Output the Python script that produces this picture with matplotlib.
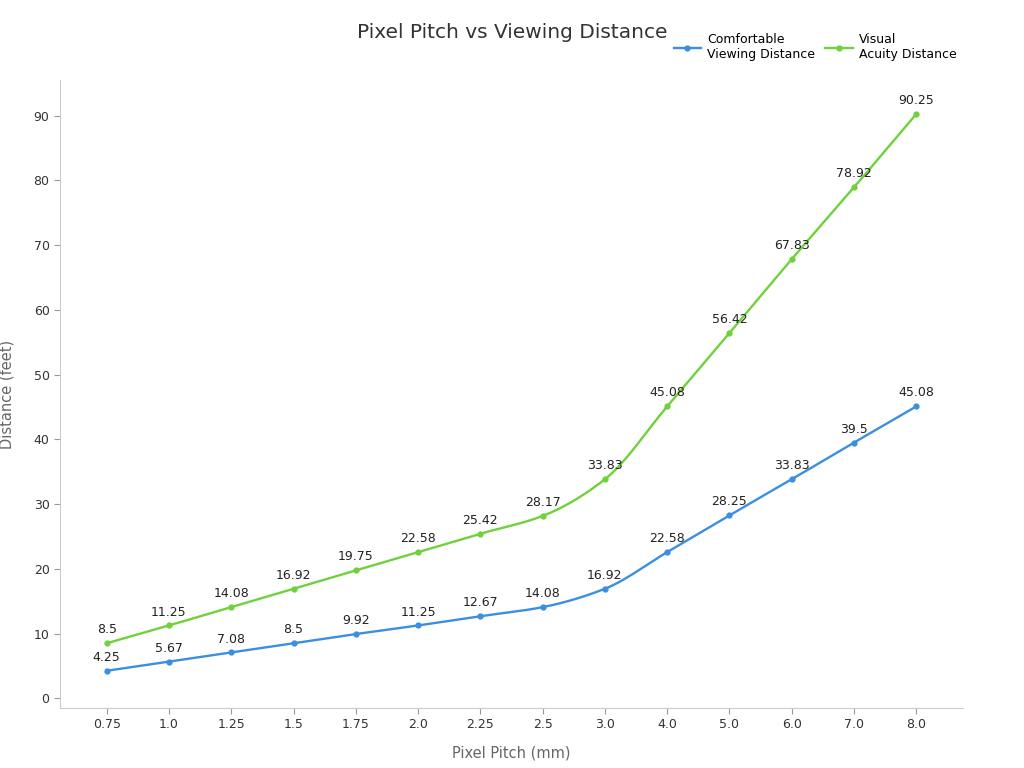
import numpy as np
import matplotlib
matplotlib.use("Agg")
import matplotlib.pyplot as plt

categories = ["0.75","1.0","1.25","1.5","1.75","2.0","2.25","2.5","3.0","4.0","5.0","6.0","7.0","8.0"]
comfortable = [4.25,5.67,7.08,8.5,9.92,11.25,12.67,14.08,16.92,22.58,28.25,33.83,39.5,45.08]
acuity = [8.5,11.25,14.08,16.92,19.75,22.58,25.42,28.17,33.83,45.08,56.42,67.83,78.92,90.25]

def pchip(x, y, xs):
    x = np.asarray(x, float); y = np.asarray(y, float)
    h = np.diff(x); d = np.diff(y) / h
    n = len(x); m = np.zeros(n)
    for k in range(1, n - 1):
        if d[k-1] * d[k] > 0:
            w1 = 2*h[k] + h[k-1]; w2 = h[k] + 2*h[k-1]
            m[k] = (w1 + w2) / (w1/d[k-1] + w2/d[k])
    m[0] = d[0]; m[-1] = d[-1]
    idx = np.clip(np.searchsorted(x, xs) - 1, 0, n - 2)
    t = (xs - x[idx]) / h[idx]
    h00 = 2*t**3 - 3*t**2 + 1; h10 = t**3 - 2*t**2 + t
    h01 = -2*t**3 + 3*t**2; h11 = t**3 - t**2
    return h00*y[idx] + h10*h[idx]*m[idx] + h01*y[idx+1] + h11*h[idx]*m[idx+1]

fig = plt.figure(figsize=(10.24, 7.68), dpi=100)
ax = fig.add_axes([60/1024, 60/768, 903/1024, 628/768])
x = np.arange(len(categories))
xs = np.linspace(0, len(categories) - 1, 600)
series = [(comfortable, "#3b8fe0", "Comfortable\nViewing Distance"),
          (acuity, "#6fd13b", "Visual\nAcuity Distance")]
for vals, col, lab in series:
    ax.plot(xs, pchip(x, vals, xs), color=col, lw=1.7)
    ax.plot(x, vals, 'o', color=col, ms=3.5)
    ax.plot([], [], '-o', color=col, ms=3.5, lw=1.7, label=lab)
    for xi, v in zip(x, vals):
        ax.annotate(f"{v:g}", (xi, v), xytext=(0, 5), textcoords="offset points",
                    ha="center", va="bottom", fontsize=9, color="#222")

ax.set_xlim(-0.75, len(categories) - 0.25)
ax.set_ylim(-1.5, 95.5)
ax.set_xticks(x, categories)
ax.set_yticks(range(0, 91, 10))
for s in ["top", "right"]:
    ax.spines[s].set_visible(False)
for s in ["left", "bottom"]:
    ax.spines[s].set_color("#cccccc")
ax.tick_params(colors="#333333", labelsize=9, length=4)
ax.tick_params(axis="both", color="#999999")
ax.set_xlabel("Pixel Pitch (mm)", fontsize=10.5, color="#666666", labelpad=10)
ax.set_ylabel("Distance (feet)", fontsize=10.5, color="#666666", labelpad=14)
fig.text(512/1024, 1 - 33/768, "Pixel Pitch vs Viewing Distance", ha="center", va="center",
         fontsize=14.5, color="#333333")
fig.legend(loc="upper right", bbox_to_anchor=(968/1024, 1 - 22/768), ncol=2, frameon=False,
           fontsize=9, handlelength=2.2, handletextpad=0.5, columnspacing=0.8)
fig.savefig("out.png", dpi=100)
